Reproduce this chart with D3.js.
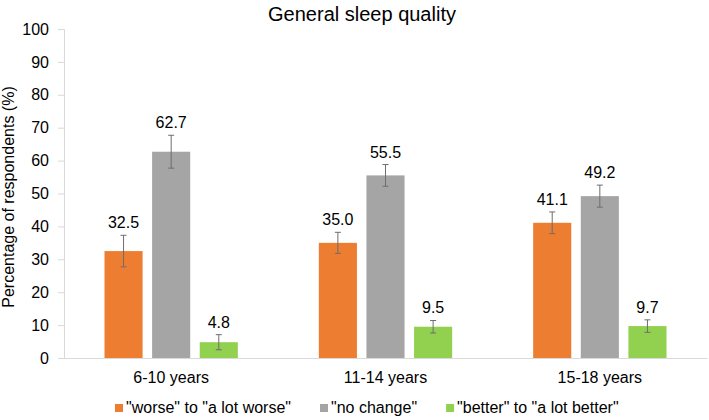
<!DOCTYPE html>
<html>
<head>
<meta charset="utf-8">
<script src="https://cdn.jsdelivr.net/npm/d3@7"></script>
<style>
  body { margin: 0; background: #fff; }
  svg { display: block; font-family: "Liberation Sans", Arial, sans-serif; }
</style>
</head>
<body>
<div id="chart"></div>
<script>
// Chart values
const categories = ["6-10 years", "11-14 years", "15-18 years"];
const seriesNames = ['"worse" to "a lot worse"', '"no change"', '"better" to "a lot better"'];
const worse = [32.5, 35.0, 41.1];
const noChange = [62.7, 55.5, 49.2];
const better = [4.8, 9.5, 9.7];
const worseErr = [4.8, 3.2, 3.3];
const noChangeErr = [5.0, 3.3, 3.35];
const betterErr = [2.3, 1.9, 1.9];
const yTicks = [0, 10, 20, 30, 40, 50, 60, 70, 80, 90, 100];
const colors = ["#ED7D31", "#A5A5A5", "#92D050"];

const values = [worse, noChange, better];
const errors = [worseErr, noChangeErr, betterErr];

const data = [];
categories.forEach((c, i) => {
  seriesNames.forEach((s, j) => {
    data.push({ cat: c, series: s, value: values[j][i], err: errors[j][i], color: colors[j] });
  });
});

const width = 709, height = 420;
const margin = { top: 29, right: 2, bottom: 62, left: 64 };
const innerW = width - margin.left - margin.right;
const innerH = height - margin.top - margin.bottom;

const svg = d3.select("#chart").append("svg")
  .attr("width", width)
  .attr("height", height);

const chart = svg.append("g")
  .attr("transform", `translate(${margin.left}, ${margin.top})`);

const x0 = d3.scaleBand().domain(categories).range([0, innerW]).padding(0);
const groupPad = 40.5;
const x1 = d3.scaleBand().domain(seriesNames)
  .range([groupPad, x0.bandwidth() - groupPad])
  .paddingInner(0.2).paddingOuter(0);
const y = d3.scaleLinear().domain([0, 100]).range([innerH, 0]);

// Title
svg.append("text")
  .attr("x", 362)
  .attr("y", 21)
  .attr("text-anchor", "middle")
  .attr("font-size", 20)
  .attr("fill", "#000")
  .text("General sleep quality");

// Y axis
const yAxis = chart.append("g")
  .call(d3.axisLeft(y).tickValues(yTicks).tickSize(6).tickPadding(9));
yAxis.select(".domain").attr("stroke", "#d9d9d9");
yAxis.selectAll(".tick line").attr("stroke", "#d9d9d9");
yAxis.selectAll(".tick text").attr("font-size", 16).attr("fill", "#000")
  .attr("font-family", "Liberation Sans, Arial, sans-serif");

// X axis baseline
const xAxis = chart.append("g")
  .attr("transform", `translate(0, ${innerH})`)
  .call(d3.axisBottom(x0).tickSize(0).tickPadding(14));
xAxis.select(".domain").attr("stroke", "#d9d9d9");
xAxis.selectAll(".tick text").attr("font-size", 16).attr("fill", "#000")
  .attr("font-family", "Liberation Sans, Arial, sans-serif");

// Y axis title
svg.append("text")
  .attr("transform", "rotate(-90)")
  .attr("x", -197)
  .attr("y", 14)
  .attr("text-anchor", "middle")
  .attr("font-size", 16)
  .attr("fill", "#000")
  .text("Percentage of respondents (%)");

// Bars
const bars = chart.selectAll(".bar")
  .data(data)
  .enter().append("g")
  .attr("transform", d => `translate(${x0(d.cat) + x1(d.series)}, 0)`);

bars.append("rect")
  .attr("x", 0)
  .attr("y", d => y(d.value))
  .attr("width", x1.bandwidth())
  .attr("height", d => innerH - y(d.value))
  .attr("fill", d => d.color);

// Error bars
const cx = x1.bandwidth() / 2;
bars.append("line")
  .attr("x1", cx).attr("x2", cx)
  .attr("y1", d => y(d.value + d.err))
  .attr("y2", d => y(d.value - d.err))
  .attr("stroke", "#6e6e6e").attr("stroke-width", 1);
bars.append("line")
  .attr("x1", cx - 3).attr("x2", cx + 3)
  .attr("y1", d => y(d.value + d.err))
  .attr("y2", d => y(d.value + d.err))
  .attr("stroke", "#6e6e6e").attr("stroke-width", 1);
bars.append("line")
  .attr("x1", cx - 3).attr("x2", cx + 3)
  .attr("y1", d => y(d.value - d.err))
  .attr("y2", d => y(d.value - d.err))
  .attr("stroke", "#6e6e6e").attr("stroke-width", 1);

// Value labels
bars.append("text")
  .attr("x", cx)
  .attr("y", d => y(d.value + d.err) - 7)
  .attr("text-anchor", "middle")
  .attr("font-size", 16)
  .attr("fill", "#000")
  .text(d => d.value.toFixed(1));

// Legend
const legend = svg.append("g").attr("transform", "translate(115, 413)");
let lx = 0;
seriesNames.forEach((s, j) => {
  legend.append("rect")
    .attr("x", lx).attr("y", -9)
    .attr("width", 8).attr("height", 8)
    .attr("fill", colors[j]);
  const t = legend.append("text")
    .attr("x", lx + 11)
    .attr("y", 0)
    .attr("font-size", 16)
    .attr("fill", "#000")
    .text(s);
  lx += 11 + t.node().getComputedTextLength() + 29;
});
</script>
</body>
</html>
